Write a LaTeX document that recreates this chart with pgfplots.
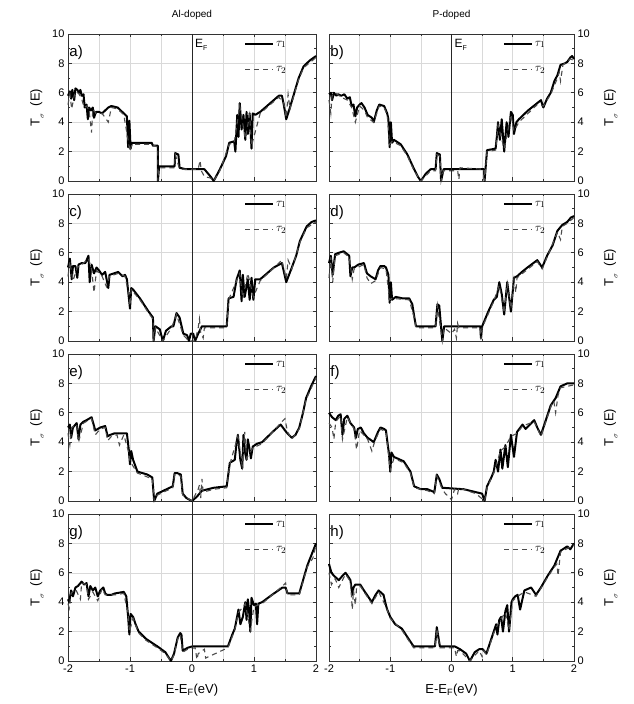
\documentclass[border=0pt]{standalone}
\usepackage{fontspec}
\setmainfont{Liberation Sans}
\usepackage{pgfplots}
\pgfplotsset{compat=1.18}
\pgfplotsset{
 panel/.style={
  scale only axis, width=248pt, height=147pt,
  xmin=-2, xmax=2, ymin=0, ymax=10, clip=false,
  xtick={-2,-1,0,1,2}, minor xtick={-1.5,-0.5,0.5,1.5},
  ytick={0,2,4,6,8,10}, minor ytick={1,3,5,7,9},
  xmajorgrids, xminorgrids, ymajorgrids,
  grid style={gray!30, line width=0.6pt}, minor grid style={gray!30, line width=0.6pt},
  axis line style={black!80, line width=0.9pt},
  tick style={black!80, line width=0.7pt},
  major tick length=3.5pt, minor tick length=2pt,
  tick align=inside,
  xticklabels={},
  tick label style={font=\fontsize{11}{12}\selectfont},
  /pgf/number format/assume math mode=true,
  legend style={draw=none, fill=none, at={(0.705,0.975)}, anchor=north west, row sep=15pt, font=\fontsize{13}{14}\selectfont, inner sep=1pt},
  legend cell align=left,
  legend image code/.code={\draw[##1] (0pt,0pt) -- (28pt,0pt);},
 },
 leftcol/.style={ylabel={T\raisebox{-0.6ex}{\scriptsize$\sigma$}\ \ (E)},
   y label style={at={(axis description cs:-0.125,0.5)}, anchor=center, font=\fontsize{13}{14}\selectfont}},
 rightcol/.style={width=245pt, yticklabel pos=right, ylabel={T\raisebox{-0.6ex}{\scriptsize$\sigma$}\ \ (E)},
   y label style={at={(axis description cs:1.15,0.5)}, anchor=center, font=\fontsize{13}{14}\selectfont}},
 bottomrow/.style={xticklabels={-2,-1,0,1,2}, xlabel={E-E\textsubscript{F}(eV)},
   x label style={at={(axis description cs:0.5,0)}, yshift=-29pt, anchor=center, font=\fontsize{13}{14}\selectfont}},
 t1/.style={black, line width=2pt, line join=round},
 t2/.style={black!70, line width=1.1pt, dash pattern=on 5pt off 4pt},
 vline/.style={black!85, line width=0.9pt, forget plot},
}
\newcommand{\plab}[1]{\node[anchor=west, font=\fontsize{15}{16}\selectfont, inner sep=0pt] at (axis cs:-1.98,8.75) {#1};}
\newcommand{\eflab}{\node[anchor=north west, font=\fontsize{12}{13}\selectfont, inner sep=1pt] at (axis cs:0.03,9.75) {E\raisebox{-0.5ex}{\scriptsize F}};}
\begin{document}
\begin{tikzpicture}
\useasboundingbox (-68pt,-43pt) rectangle (566pt,661pt);
% a)
\begin{axis}[panel, leftcol, at={(0pt,480pt)}, anchor=south west, title={Al-doped},
  title style={at={(axis description cs:0.5,1)}, anchor=south, yshift=5pt, font=\fontsize{10}{11}\selectfont}]
\addplot[t1] coordinates {(-2,5.8) (-1.97,6.1) (-1.95,5.6) (-1.93,6.2) (-1.9,5.5) (-1.88,6.3) (-1.85,6.2) (-1.82,6.0) (-1.8,6.2) (-1.78,5.8) (-1.75,5.9) (-1.73,5.0) (-1.7,5.2) (-1.68,4.2) (-1.66,5.0) (-1.63,4.8) (-1.6,5.0) (-1.58,4.3) (-1.55,4.7) (-1.5,4.7) (-1.45,4.6) (-1.4,4.8) (-1.35,5.0) (-1.3,5.1) (-1.2,5.0) (-1.1,4.6) (-1.05,4.4) (-1.03,2.3) (-1.01,4.1) (-0.99,2.2) (-0.97,2.6) (-0.65,2.6) (-0.63,2.4) (-0.55,2.4) (-0.55,0) (-0.53,1.0) (-0.28,1.0) (-0.27,1.9) (-0.22,1.8) (-0.2,0.9) (-0.1,0.8) (0.2,0.8) (0.3,0.3) (0.35,0) (0.45,0.8) (0.55,1.7) (0.6,2.6) (0.68,2.7) (0.7,2.0) (0.73,4.5) (0.75,3.0) (0.77,5.3) (0.8,3.5) (0.83,4.5) (0.86,2.8) (0.88,4.7) (0.9,3.2) (0.93,4.6) (0.96,2.2) (0.98,4.6) (1.02,4.5) (1.1,4.7) (1.4,5.8) (1.45,5.8) (1.48,5.2) (1.52,4.2) (1.58,5.0) (1.65,6.0) (1.72,7.0) (1.8,7.8) (1.9,8.2) (2,8.5)};
\addplot[t2] coordinates {(-2,5.2) (-1.97,5.9) (-1.94,4.9) (-1.9,5.8) (-1.87,6.1) (-1.82,5.9) (-1.78,5.6) (-1.74,5.0) (-1.7,5.1) (-1.66,4.8) (-1.62,3.3) (-1.6,4.9) (-1.55,4.6) (-1.45,4.6) (-1.35,4.0) (-1.3,5.0) (-1.2,4.9) (-1.1,4.5) (-1.04,3.0) (-1.0,2.0) (-0.97,2.5) (-0.65,2.5) (-0.55,2.3) (-0.55,0) (-0.53,0.9) (-0.28,0.9) (-0.27,1.8) (-0.2,0.8) (0.1,0.8) (0.13,1.4) (0.15,0.7) (0.2,0.3) (0.3,0.2) (0.35,0) (0.45,0.7) (0.6,2.5) (0.68,2.6) (0.77,5.1) (0.86,2.9) (0.93,4.5) (0.96,2.4) (1.1,4.6) (1.4,5.7) (1.48,5.3) (1.52,4.3) (1.55,5.9) (1.58,4.9) (1.72,6.9) (1.8,7.7) (2,8.4)};
\legend{$\tau_1$,$\tau_2$}
\addplot[vline] coordinates {(0,-0.45) (0,10)};
\plab{a)}\eflab
\end{axis}
% b)
\begin{axis}[panel, rightcol, at={(261pt,480pt)}, anchor=south west, title={P-doped},
  title style={at={(axis description cs:0.5,1)}, anchor=south, yshift=5pt, font=\fontsize{10}{11}\selectfont}]
\addplot[t1] coordinates {(-2,5.9)(-1.97,6.0)(-1.95,5.5)(-1.92,6.0)(-1.88,5.8)(-1.85,5.9)(-1.8,5.8)(-1.75,5.9)(-1.7,5.6)(-1.66,5.7)(-1.63,5.1)(-1.6,5.2)(-1.57,4.4)(-1.54,5.0)(-1.5,5.2)(-1.47,5.3)(-1.42,5.0)(-1.37,4.5)(-1.3,4.3)(-1.27,4.0)(-1.22,4.8)(-1.18,5.2)(-1.1,5.1)(-1.05,4.6)(-1.03,4.2)(-1.01,2.3)(-0.99,4.0)(-0.97,2.6)(-0.94,2.8)(-0.83,2.5)(-0.72,1.8)(-0.61,0.8)(-0.55,0.3)(-0.5,0)(-0.42,0.5)(-0.34,0.8)(-0.26,0.8)(-0.24,1.9)(-0.19,1.8)(-0.17,0)(-0.13,0.8)(0.53,0.8)(0.54,0)(0.58,2.1)(0.72,2.2)(0.74,3.0)(0.76,4.0)(0.79,2.8)(0.82,4.2)(0.86,2.0)(0.9,4.0)(0.93,3.0)(0.97,4.7)(1.0,4.5)(1.02,3.2)(1.06,4.0)(1.1,4.2)(1.25,4.8)(1.4,5.3)(1.46,5.5)(1.5,5.0)(1.56,5.6)(1.62,6.0)(1.68,6.8)(1.73,7.2)(1.78,7.9)(1.85,8.0)(1.89,8.1)(1.94,8.4)(1.97,8.5)(2,8.3)};
\addplot[t2] coordinates {(-2,5.5)(-1.97,4.6)(-1.95,5.8)(-1.9,6.0)(-1.8,5.7)(-1.7,5.5)(-1.63,5.0)(-1.57,4.0)(-1.5,5.1)(-1.42,4.8)(-1.37,4.3)(-1.27,4.0)(-1.18,5.1)(-1.1,5.0)(-1.05,4.5)(-1.01,2.5)(-0.97,2.7)(-0.83,2.4)(-0.72,1.7)(-0.61,0.7)(-0.5,0)(-0.34,0.7)(-0.26,0.7)(-0.24,1.8)(-0.19,1.7)(-0.17,0)(-0.13,0.7)(0.1,0.7)(0.12,0.1)(0.14,0.9)(0.53,0.8)(0.54,0)(0.58,2.0)(0.72,2.1)(0.76,3.8)(0.86,2.2)(0.97,4.5)(1.02,3.4)(1.1,4.0)(1.4,5.2)(1.5,5.1)(1.62,5.9)(1.73,7.0)(1.76,7.4)(1.78,6.8)(1.82,7.9)(1.94,8.3)(2,8.2)};
\legend{$\tau_1$,$\tau_2$}
\addplot[vline] coordinates {(0,-0.45) (0,10)};
\plab{b)}\eflab
\end{axis}
% c)
\begin{axis}[panel, leftcol, at={(0pt,320pt)}, anchor=south west]
\addplot[t1] coordinates {(-2,5.0)(-1.97,5.6)(-1.94,4.2)(-1.92,5.1)(-1.88,5.1)(-1.85,4.3)(-1.83,5.2)(-1.78,5.3)(-1.72,5.3)(-1.67,5.8)(-1.65,4.0)(-1.62,5.2)(-1.58,4.6)(-1.54,5.0)(-1.5,4.8)(-1.45,4.5)(-1.4,4.7)(-1.35,3.6)(-1.33,4.5)(-1.26,4.6)(-1.19,4.7)(-1.12,4.4)(-1.08,4.5)(-1.05,4.2)(-1.02,3.0)(-1.0,2.2)(-0.98,3.6)(-0.95,3.5)(-0.84,2.9)(-0.7,2.0)(-0.63,1.6)(-0.62,0)(-0.59,1.0)(-0.52,0.8)(-0.47,0)(-0.42,0.7)(-0.33,1.0)(-0.3,1.0)(-0.25,1.9)(-0.2,1.6)(-0.14,0.5)(-0.08,0.4)(-0.05,0)(-0.02,0.5)(0.02,0.5)(0.05,0)(0.1,0.5)(0.16,1.0)(0.56,1.0)(0.59,2.9)(0.67,3.0)(0.72,4.2)(0.77,4.8)(0.8,2.7)(0.82,4.5)(0.85,3.0)(0.9,4.2)(0.93,2.8)(0.96,4.3)(0.99,2.8)(1.02,4.2)(1.1,4.2)(1.32,5.0)(1.45,5.3)(1.52,4.0)(1.61,5.0)(1.68,5.8)(1.74,6.8)(1.85,7.8)(1.93,8.1)(2,8.2)};
\addplot[t2] coordinates {(-2,4.4)(-1.97,5.4)(-1.92,4.1)(-1.85,5.0)(-1.78,5.2)(-1.67,5.6)(-1.62,4.9)(-1.58,3.3)(-1.54,4.8)(-1.45,4.4)(-1.38,3.7)(-1.33,4.4)(-1.19,4.6)(-1.08,4.4)(-1.02,3.2)(-1.0,2.4)(-0.98,3.5)(-0.84,2.8)(-0.7,1.9)(-0.63,1.5)(-0.62,0)(-0.59,0.9)(-0.47,0)(-0.33,0.9)(-0.25,1.8)(-0.14,0.4)(-0.05,0)(0.05,0)(0.1,0.9)(0.12,1.5)(0.14,0.6)(0.18,0.2)(0.2,0.9)(0.56,0.9)(0.59,2.8)(0.77,4.6)(0.82,2.9)(0.9,4.6)(0.99,3.0)(1.1,4.1)(1.45,5.5)(1.52,4.2)(1.55,5.5)(1.61,4.9)(1.74,6.7)(1.85,7.7)(2,8.1)};
\legend{$\tau_1$,$\tau_2$}
\addplot[vline] coordinates {(0,-0.45) (0,10.45)};
\plab{c)}
\end{axis}
% d)
\begin{axis}[panel, rightcol, at={(261pt,320pt)}, anchor=south west]
\addplot[t1] coordinates {(-2,5.3)(-1.97,5.8)(-1.94,4.5)(-1.9,5.9)(-1.84,6.0)(-1.76,6.1)(-1.7,5.9)(-1.67,5.8)(-1.65,4.4)(-1.62,5.0)(-1.59,5.0)(-1.52,5.2)(-1.43,5.3)(-1.38,4.6)(-1.32,4.4)(-1.24,4.2)(-1.2,4.8)(-1.16,5.1)(-1.1,5.1)(-1.07,5.0)(-1.03,4.5)(-1.01,2.6)(-0.99,4.0)(-0.97,2.8)(-0.91,3.0)(-0.8,2.9)(-0.69,2.9)(-0.64,2.5)(-0.61,1.7)(-0.58,1.0)(-0.26,1.0)(-0.23,2.5)(-0.2,2.4)(-0.15,0)(-0.12,1.0)(0.47,1.0)(0.48,0.2)(0.5,1.0)(0.6,2.0)(0.69,2.8)(0.74,3.0)(0.78,4.0)(0.82,3.2)(0.86,1.8)(0.91,4.0)(0.94,3.0)(0.97,2.0)(1.02,4.3)(1.07,4.4)(1.15,4.7)(1.24,5.0)(1.4,5.5)(1.48,5.0)(1.56,5.8)(1.65,6.5)(1.73,7.5)(1.81,7.9)(1.89,8.1)(1.95,8.4)(2,8.5)};
\addplot[t2] coordinates {(-2,4.3)(-1.97,5.7)(-1.94,4.0)(-1.9,5.8)(-1.76,6.0)(-1.67,5.7)(-1.62,4.2)(-1.59,4.9)(-1.43,5.2)(-1.38,4.3)(-1.32,3.9)(-1.24,4.1)(-1.16,5.0)(-1.07,4.9)(-1.01,2.8)(-0.97,2.9)(-0.69,2.8)(-0.61,1.6)(-0.58,0.9)(-0.26,0.9)(-0.23,2.4)(-0.15,0)(-0.12,0.9)(0.0,0.5)(0.05,0.8)(0.08,0.2)(0.1,1.2)(0.12,0.9)(0.47,0.9)(0.48,0.1)(0.5,0.9)(0.69,2.7)(0.78,3.8)(0.86,1.9)(0.91,3.9)(0.97,2.2)(1.02,4.2)(1.05,3.3)(1.07,4.3)(1.4,5.4)(1.48,4.9)(1.56,5.7)(1.73,7.4)(1.78,6.9)(1.81,7.8)(1.89,8.0)(2,8.4)};
\legend{$\tau_1$,$\tau_2$}
\addplot[vline] coordinates {(0,-0.45) (0,10.45)};
\plab{d)}
\end{axis}
% e)
\begin{axis}[panel, leftcol, at={(0pt,160pt)}, anchor=south west]
\addplot[t1] coordinates {(-2,5.0)(-1.97,5.2)(-1.95,4.3)(-1.92,5.0)(-1.86,5.3)(-1.83,4.2)(-1.8,5.2)(-1.75,5.4)(-1.7,5.5)(-1.62,5.7)(-1.56,4.8)(-1.52,4.9)(-1.48,5.0)(-1.4,5.1)(-1.36,4.4)(-1.32,4.5)(-1.25,4.6)(-1.21,4.6)(-1.1,4.6)(-1.05,4.6)(-1.02,3.5)(-1.0,2.5)(-0.98,3.4)(-0.95,2.8)(-0.88,2.0)(-0.72,1.8)(-0.64,1.6)(-0.61,0)(-0.56,0.5)(-0.31,1.0)(-0.28,1.9)(-0.24,1.9)(-0.18,1.8)(-0.15,0.5)(-0.09,0.2)(0.0,0)(0.08,0.3)(0.16,0.7)(0.35,0.9)(0.56,1.0)(0.61,2.6)(0.69,2.8)(0.72,4.0)(0.74,4.5)(0.78,2.8)(0.81,2.2)(0.83,4.5)(0.86,3.2)(0.88,2.8)(0.9,4.2)(0.93,3.5)(0.95,2.9)(0.98,3.7)(1.05,3.9)(1.13,4.0)(1.3,4.7)(1.43,5.2)(1.5,4.8)(1.54,4.6)(1.61,4.3)(1.67,4.5)(1.73,5.0)(1.79,6.0)(1.84,7.0)(1.92,7.8)(2,8.5)};
\addplot[t2] coordinates {(-2,4.6)(-1.97,3.8)(-1.94,5.0)(-1.86,5.2)(-1.83,4.0)(-1.75,5.3)(-1.62,5.6)(-1.56,4.5)(-1.48,4.9)(-1.4,5.0)(-1.36,4.1)(-1.3,4.4)(-1.21,4.5)(-1.17,3.8)(-1.1,4.5)(-1.02,3.3)(-1.0,2.7)(-0.88,1.9)(-0.64,1.5)(-0.61,0)(-0.56,0.4)(-0.31,0.9)(-0.28,1.8)(-0.18,1.7)(-0.15,0.4)(0,0)(0.1,0.8)(0.12,1.1)(0.14,0.2)(0.16,1.5)(0.18,0.6)(0.35,0.8)(0.56,0.9)(0.61,2.5)(0.74,4.4)(0.81,2.4)(0.85,4.7)(0.88,2.9)(0.98,3.6)(1.13,3.9)(1.43,5.3)(1.5,5.6)(1.54,4.7)(1.61,4.2)(1.73,4.9)(1.84,6.9)(2,8.4)};
\legend{$\tau_1$,$\tau_2$}
\addplot[vline] coordinates {(0,-0.45) (0,10.45)};
\plab{e)}
\end{axis}
% f)
\begin{axis}[panel, rightcol, at={(261pt,160pt)}, anchor=south west]
\addplot[t1] coordinates {(-2,6.0)(-1.95,5.7)(-1.89,5.5)(-1.85,5.8)(-1.81,5.9)(-1.78,4.5)(-1.75,5.6)(-1.7,5.8)(-1.65,5.3)(-1.59,5.0)(-1.56,4.3)(-1.53,4.9)(-1.48,5.0)(-1.43,4.6)(-1.37,4.3)(-1.3,4.1)(-1.27,4.0)(-1.2,4.7)(-1.16,5.0)(-1.1,4.9)(-1.07,4.8)(-1.04,3.8)(-1.02,3.2)(-1.0,2.0)(-0.98,3.3)(-0.94,3.0)(-0.78,2.7)(-0.67,2.0)(-0.61,1.0)(-0.5,0.8)(-0.39,0.8)(-0.28,0.6)(-0.24,1.8)(-0.2,1.5)(-0.15,0.9)(0.2,0.8)(0.4,0.6)(0.5,0.5)(0.54,0)(0.58,1.0)(0.65,1.6)(0.69,2.0)(0.72,2.8)(0.76,2.0)(0.8,3.5)(0.83,2.2)(0.88,3.8)(0.92,2.3)(0.97,4.5)(1.02,3.0)(1.07,4.7)(1.16,5.2)(1.21,4.9)(1.35,5.5)(1.4,5.0)(1.46,4.5)(1.54,5.5)(1.62,6.5)(1.7,7.0)(1.78,7.8)(1.89,8.0)(2,8.0)};
\addplot[t2] coordinates {(-2,5.3)(-1.95,5.0)(-1.92,4.2)(-1.89,5.4)(-1.81,5.8)(-1.78,4.2)(-1.7,5.7)(-1.59,4.9)(-1.55,3.5)(-1.5,4.8)(-1.37,4.2)(-1.3,3.4)(-1.25,4.1)(-1.16,4.9)(-1.07,4.7)(-1.0,2.1)(-0.94,2.9)(-0.78,2.6)(-0.67,1.9)(-0.61,0.9)(-0.39,0.7)(-0.28,0.5)(-0.24,1.7)(-0.15,0.8)(-0.1,0.5)(0.0,0.1)(0.05,0.8)(0.1,0.5)(0.12,0.9)(0.4,0.5)(0.54,0)(0.58,0.9)(0.69,1.9)(0.8,3.4)(0.88,3.7)(0.97,4.4)(1.07,4.6)(1.16,5.1)(1.35,5.4)(1.46,4.4)(1.54,5.4)(1.62,6.4)(1.67,6.8)(1.7,6.0)(1.74,7.2)(1.78,7.7)(2,7.9)};
\legend{$\tau_1$,$\tau_2$}
\addplot[vline] coordinates {(0,-0.45) (0,10.45)};
\plab{f)}
\end{axis}
% g)
\begin{axis}[panel, leftcol, bottomrow, at={(0pt,0pt)}, anchor=south west]
\addplot[t1] coordinates {(-2,4.2)(-1.98,4.0)(-1.95,4.8)(-1.92,4.4)(-1.88,5.0)(-1.84,5.1)(-1.78,5.4)(-1.74,5.2)(-1.7,5.3)(-1.67,4.4)(-1.64,5.1)(-1.6,4.8)(-1.56,5.0)(-1.52,4.4)(-1.48,4.8)(-1.43,5.0)(-1.4,4.6)(-1.37,4.5)(-1.3,4.5)(-1.24,4.6)(-1.1,4.7)(-1.06,4.4)(-1.03,3.0)(-1.01,1.8)(-0.99,3.2)(-0.95,3.0)(-0.91,2.5)(-0.86,2.0)(-0.74,1.5)(-0.56,1.0)(-0.43,0.6)(-0.34,0)(-0.29,0.5)(-0.23,1.6)(-0.19,1.9)(-0.17,1.8)(-0.15,0.7)(-0.07,0.9)(0.01,1.0)(0.58,1.0)(0.65,1.8)(0.69,2.2)(0.75,3.5)(0.78,2.5)(0.82,3.0)(0.86,4.0)(0.88,2.8)(0.9,4.2)(0.92,3.5)(0.94,2.0)(0.96,4.3)(1.0,3.8)(1.03,3.9)(1.05,2.5)(1.07,3.9)(1.13,4.0)(1.29,4.5)(1.46,5.0)(1.51,5.0)(1.54,4.6)(1.73,4.6)(1.86,6.5)(2,8.0)};
\addplot[t2] coordinates {(-2,3.9)(-1.98,3.6)(-1.95,4.6)(-1.88,4.9)(-1.8,4.2)(-1.78,5.3)(-1.7,5.2)(-1.67,4.2)(-1.6,4.7)(-1.52,4.1)(-1.45,4.9)(-1.4,4.5)(-1.24,4.5)(-1.1,4.6)(-1.03,3.2)(-1.01,2.0)(-0.95,2.9)(-0.86,1.9)(-0.74,1.4)(-0.56,0.9)(-0.43,0.5)(-0.34,0)(-0.29,0.4)(-0.23,1.5)(-0.19,1.8)(-0.15,0.6)(-0.07,0.8)(0.05,0.9)(0.08,0.1)(0.1,0.5)(0.2,0.8)(0.22,0.2)(0.58,0.9)(0.69,2.1)(0.75,3.3)(0.86,3.9)(0.94,2.1)(1.0,3.7)(1.13,3.9)(1.46,5.1)(1.51,5.3)(1.54,4.5)(1.73,4.5)(1.86,6.4)(1.95,7.0)(2,7.9)};
\legend{$\tau_1$,$\tau_2$}
\addplot[vline] coordinates {(0,0) (0,10.45)};
\plab{g)}
\end{axis}
% h)
\begin{axis}[panel, rightcol, bottomrow, at={(261pt,0pt)}, anchor=south west]
\addplot[t1] coordinates {(-2,6.6)(-1.96,6.0)(-1.92,5.8)(-1.84,5.5)(-1.78,5.8)(-1.73,6.0)(-1.68,5.7)(-1.65,5.5)(-1.62,4.5)(-1.6,5.0)(-1.57,5.2)(-1.49,5.2)(-1.43,4.8)(-1.38,4.5)(-1.3,4.0)(-1.24,4.5)(-1.19,4.8)(-1.11,4.5)(-1.07,3.8)(-1.05,3.5)(-1.02,3.2)(-1.0,3.0)(-0.92,2.5)(-0.81,2.2)(-0.7,1.5)(-0.62,1.0)(-0.27,1.0)(-0.24,2.3)(-0.19,1.0)(0.05,1.0)(0.14,0.8)(0.24,0.5)(0.3,0)(0.38,0.6)(0.45,0.8)(0.51,0.8)(0.57,0.5)(0.65,1.5)(0.69,2.0)(0.73,2.5)(0.75,1.8)(0.78,2.8)(0.81,3.0)(0.84,2.0)(0.88,3.4)(0.91,3.8)(0.94,2.0)(0.98,4.0)(1.0,4.2)(1.04,4.4)(1.08,4.5)(1.12,3.5)(1.19,4.8)(1.3,5.0)(1.38,4.5)(1.46,5.0)(1.57,5.8)(1.68,6.5)(1.78,7.5)(1.89,7.8)(1.94,7.6)(2,8.0)};
\addplot[t2] coordinates {(-2,6.0)(-1.96,5.2)(-1.9,5.6)(-1.84,5.0)(-1.78,5.5)(-1.73,5.9)(-1.65,5.4)(-1.62,3.5)(-1.6,4.8)(-1.57,3.8)(-1.55,5.0)(-1.49,5.1)(-1.38,4.4)(-1.3,3.9)(-1.19,4.7)(-1.07,3.7)(-1.0,2.9)(-0.81,2.1)(-0.62,0.9)(-0.27,0.9)(-0.24,2.2)(-0.19,0.9)(0.05,0.9)(0.08,0.3)(0.1,0.7)(0.14,0.7)(0.3,0)(0.45,0.7)(0.5,0.3)(0.53,0.7)(0.57,0.4)(0.69,1.9)(0.78,2.7)(0.88,3.3)(0.94,2.1)(1.0,4.1)(1.08,4.4)(1.19,4.7)(1.38,4.4)(1.57,5.7)(1.68,6.4)(1.72,6.6)(1.74,5.8)(1.78,7.4)(2,7.9)};
\legend{$\tau_1$,$\tau_2$}
\addplot[vline] coordinates {(0,0) (0,10.45)};
\plab{h)}
\end{axis}
\end{tikzpicture}
\end{document}
